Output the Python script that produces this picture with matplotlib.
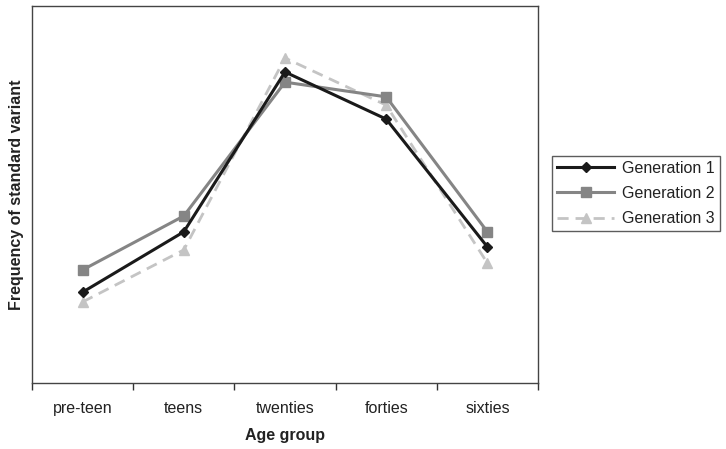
import matplotlib.pyplot as plt
import numpy as np

plt.rcParams['font.family'] = ['Liberation Sans', 'DejaVu Sans']

# Données (échelle relative, sans unité)
groupes_age = ['pre-teen', 'teens', 'twenties', 'forties', 'sixties']
generation_1 = [0.241, 0.401, 0.825, 0.700, 0.361]
generation_2 = [0.300, 0.443, 0.798, 0.759, 0.401]
generation_3 = [0.215, 0.353, 0.862, 0.737, 0.318]

fig = plt.figure(figsize=(7.26, 4.49), dpi=100)
ax = fig.add_axes([32 / 726, 1 - 383 / 449, 506 / 726, 377 / 449])

x = np.arange(len(groupes_age))

ax.plot(x, generation_1, color='#1a1a1a', linewidth=2.2, marker='D', markersize=5.5,
        label='Generation 1', zorder=4)
ax.plot(x, generation_2, color='#858585', linewidth=2.2, marker='s', markersize=7.5,
        label='Generation 2', zorder=3)
ax.plot(x, generation_3, color='#c4c4c4', linewidth=2.0, linestyle=(0, (4, 2.5)),
        marker='^', markersize=7, label='Generation 3', zorder=2)

ax.set_xlim(-0.5, len(groupes_age) - 0.5)
ax.set_ylim(0, 1)

# Ticks aux limites des catégories, étiquettes au centre
ax.set_xticks(np.arange(len(groupes_age) + 1) - 0.5)
ax.set_xticklabels([])
ax.set_xticks(x, minor=True)
ax.set_xticklabels(groupes_age, minor=True, fontsize=11.5, color='#222222')
ax.tick_params(axis='x', which='major', direction='out', length=5, width=1, color='#333333')
ax.tick_params(axis='x', which='minor', length=0, pad=13)
ax.set_yticks([])

for s in ax.spines.values():
    s.set_color('#444444')
    s.set_linewidth(1)

ax.set_xlabel('Age group', fontsize=11.5, fontweight='bold', color='#222222')
ax.xaxis.set_label_coords(0.5, -0.12)
ax.set_ylabel('Frequency of standard variant', fontsize=11.5, fontweight='bold', color='#222222')
ax.yaxis.set_label_coords(-0.016, 0.5)

leg = fig.legend(loc='center left', bbox_to_anchor=(552 / 726, 1 - 193.5 / 449),
                 fontsize=11.5, frameon=True, fancybox=False, handlelength=3.6,
                 handletextpad=0.5, borderpad=0.3, labelspacing=0.65, borderaxespad=0)
leg.get_frame().set_edgecolor('#333333')
leg.get_frame().set_linewidth(1)
for t in leg.get_texts():
    t.set_color('#222222')

fig.savefig('out.png', dpi=100)
